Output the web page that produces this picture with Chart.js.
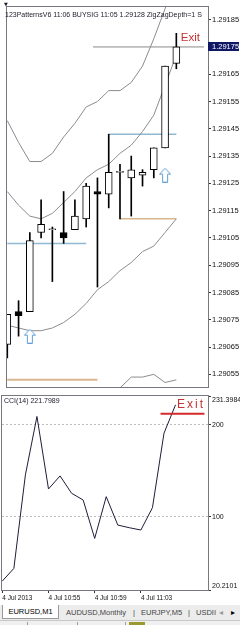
<!DOCTYPE html>
<html>
<head>
<meta charset="utf-8">
<style>
  html, body { margin: 0; padding: 0; background: #fff; }
  body { width: 240px; height: 625px; position: relative; overflow: hidden; font-family: Arial, "Liberation Sans", sans-serif; }
  #grafPrecio { position: absolute; left: 0; top: 0; }
  #grafCCI { position: absolute; left: 0; top: 394px; }
  #pestanas { position: absolute; left: 0; top: 605px; width: 240px; height: 15px; background: #ececec; font-size: 7.5px; color: #444; }
  #pestanas span { position: absolute; top: 3px; white-space: nowrap; }
  #pestanas .activa { position: absolute; left: 2px; top: 0; width: 55px; height: 13px; background: #fff;
    border: 1px solid #9a9a9a; border-top: none; color: #000; text-align: center; line-height: 13px; }
  #estado { position: absolute; left: 0; top: 620px; width: 240px; height: 5px; background: #f0f0f0; border-top: 1px solid #c8c8c8; }
  #estado i { position: absolute; top: 1px; width: 1px; height: 4px; background: #a0a0a0; }
</style>
</head>
<body>
<canvas id="grafPrecio" width="240" height="394"></canvas>
<canvas id="grafCCI" width="240" height="211"></canvas>
<div id="pestanas">
  <div class="activa">EURUSD,M1</div>
  <span style="left:66px">AUDUSD,Monthly</span>
  <span style="left:133px">|</span>
  <span style="left:141px">EURJPY,M5</span>
  <span style="left:188px">|</span>
  <span style="left:196px">USDII</span>
  <span style="left:219px;color:#999">&#9666;</span>
  <span style="left:231px;color:#000">&#9656;</span>
</div>
<div id="estado"><i style="left:27px"></i><i style="left:77px"></i><i style="left:125px"></i>
  <i style="left:129px;background:#9a9a30;width:16px"></i></div>
<script src="https://cdn.jsdelivr.net/npm/chart.js"></script>
<script>
    // Barras de 1 minuto (EURUSD,M1)
    const horas = ['10:51', '10:52', '10:53', '10:54', '10:55', '10:56', '10:57', '10:58',
                   '10:59', '11:00', '11:01', '11:02', '11:03', '11:04', '11:05', '11:06'];
    const aperturas = [1.29066, 1.29078, 1.29078, 1.29107, 1.29108, 1.29107, 1.29108, 1.29112,
                       1.29122, 1.29121, 1.29129, 1.29127, 1.29128, 1.29130, 1.29138, 1.29169];
    const maximos   = [1.29077, 1.29082, 1.29107, 1.29119, 1.29109, 1.29122, 1.29119, 1.29125,
                       1.29127, 1.29143, 1.29132, 1.29135, 1.29130, 1.29138, 1.29168, 1.29180];
    const minimos   = [1.29061, 1.29069, 1.29078, 1.29105, 1.29089, 1.29103, 1.29108, 1.29109,
                       1.29087, 1.29116, 1.29112, 1.29113, 1.29124, 1.29127, 1.29138, 1.29167];
    const cierres   = [1.29077, 1.290765, 1.29104, 1.29110, 1.29108, 1.29105, 1.29113, 1.29124,
                       1.29121, 1.29129, 1.29129, 1.29130, 1.29129, 1.29138, 1.29168, 1.29175];

    // Bandas
    const bandaSuperior = [1.29148, 1.29140, 1.29133, 1.29133, 1.29136, 1.29142, 1.29147, 1.29153,
                           1.29155, 1.29159, 1.29159, 1.29162, 1.29168, 1.29178, 1.29189, 1.29201];
    const bandaMedia    = [1.29122, 1.29117, 1.29113, 1.29112, 1.29114, 1.29118, 1.29122, 1.29127,
                           1.29130, 1.29132, 1.29136, 1.29139, 1.29144, 1.29150, 1.29161, 1.29172];
    const bandaInferior = [1.29073, 1.29072, 1.29071, 1.29071, 1.29072, 1.29074, 1.29077, 1.29081,
                           1.29086, 1.29089, 1.29093, 1.29096, 1.29100, 1.29102, 1.29107, 1.29112];
    const lineaFondo    = [null, null, null, null, null, null, null, null,
                           null, 1.29040, 1.29050, 1.29054, 1.29054, 1.29055, 1.29052, 1.29053];

    // CCI(14)
    const valoresCCI = [29.9, 43.7, 145.5, 209.1, 130.2, 144.4, 125.5, 118.2,
                        76.4, 121.8, 90.9, 88.0, 85.5, 109.8, 190.9, 221.7989];

    // Lineas del patron: [precio, barra inicial, barra final]
    const lineasAzules = [[1.29103, 0, 7], [1.29143, 9, 15]];
    const lineasNaranjas = [[1.29053, 0, 8], [1.29112, 10, 15]];
    const lineaBid = [1.29175, 7.6, 17.45];
    const precioActual = 1.29175;
    const lineaSalidaCCI = [212, 13.7, 17.5];

    // Flechas de compra: [barra, precio]
    const flechas = [[2, 1.29069], [14, 1.29128]];

    // Textos
    const textoCabecera = '123PatternsV6 11:06 BUYSIG 11:05 1.29128 ZigZagDepth=1 S';
    const textoCCI = 'CCI(14) 221.7989';
    const textoSalida = 'Exit';
    const anclaSalidaPrecio = [15.39, 1.291784];
    const anclaSalidaCCI = [15.13, 221.8];

    // Ejes
    const etiquetasPrecio = ['1.29185', '1.29175', '1.29165', '1.29155', '1.29145', '1.29135', '1.29125',
                             '1.29115', '1.29105', '1.29095', '1.29085', '1.29075', '1.29065', '1.29055'];
    const etiquetasCCI = ['231.3984', '200', '100', '20.2101'];
    const etiquetasTiempo = ['4 Jul 2013', '4 Jul 10:55', '4 Jul 10:59', '4 Jul 11:03'];
    const barrasTiempo = [0, 4, 8, 12];
    const precioMin = 1.2905036, precioMax = 1.2918964;
    const cciMin = 20.2101, cciMax = 231.3984;
    const barraMin = -0.026, barraMax = 17.81;

    Chart.defaults.font.family = 'Arial, "Liberation Sans", sans-serif';

    // Flecha hueca azul
    function crearFlecha() {
        const c = document.createElement('canvas');
        c.width = 12; c.height = 15;
        const g = c.getContext('2d');
        g.beginPath();
        g.moveTo(6, 0.5); g.lineTo(11.5, 6.5); g.lineTo(8.5, 6.5); g.lineTo(8.5, 14.5);
        g.lineTo(3.5, 14.5); g.lineTo(3.5, 6.5); g.lineTo(0.5, 6.5); g.closePath();
        g.fillStyle = '#fff'; g.fill();
        g.strokeStyle = '#5f9fd6'; g.lineWidth = 1; g.stroke();
        return c;
    }

    function linea(datos, color, ancho, orden) {
        return { type: 'line', data: datos, borderColor: color, borderWidth: ancho,
                 pointRadius: 0, tension: 0, fill: false, order: orden };
    }

    function marco(chart) {
        const {ctx, chartArea: a} = chart;
        ctx.save();
        ctx.strokeStyle = '#777782';
        ctx.lineWidth = 1;
        ctx.strokeRect(a.left - 0.5, a.top - 0.5, a.width + 1, a.height + 1);
        ctx.restore();
    }

    const ejeX = {
        type: 'linear', min: barraMin, max: barraMax, offset: false, display: false,
        grid: { offset: false },
        afterFit: s => { s.paddingLeft = 0; s.paddingRight = 0; }
    };

    // Decoraciones del grafico de precio
    const decoPrecio = {
        id: 'decoPrecio',
        afterDraw(chart) {
            const {ctx, scales: {x, y}} = chart;
            marco(chart);
            ctx.save();
            // Cabecera ajustada al ancho
            ctx.font = '7px Arial';
            const w = ctx.measureText(textoCabecera).width;
            ctx.font = (7 * 197 / w).toFixed(2) + 'px Arial';
            ctx.fillStyle = '#1c1c2c';
            ctx.textBaseline = 'middle';
            ctx.fillText(textoCabecera, 5, 15.5);
            ctx.font = '5px "DejaVu Sans"';
            ctx.fillText('\u25BC', 4, 5);
            // Exit
            ctx.font = '11.5px Arial';
            ctx.fillStyle = '#c83232';
            ctx.fillText(textoSalida, x.getPixelForValue(anclaSalidaPrecio[0]), y.getPixelForValue(anclaSalidaPrecio[1]));
            // Etiqueta del precio actual
            const py = Math.round(y.getPixelForValue(precioActual));
            ctx.fillStyle = '#101866';
            ctx.fillRect(208, py - 5, 31, 9);
            ctx.fillStyle = '#fff';
            ctx.font = '7.5px Arial';
            ctx.fillText(precioActual.toFixed(5), 212, py - 0.5);
            ctx.restore();
        }
    };

    const imagenFlecha = crearFlecha();

    const datosPrecio = [
        {
            type: 'line', order: 0, showLine: false,
            data: flechas.map(f => ({ x: f[0], y: f[1] })),
            pointStyle: imagenFlecha, pointRadius: 6
        },
        {
            type: 'bar', order: 1, grouped: false, barThickness: 7, minBarLength: 1,
            data: horas.map((h, i) => ({ x: i, y: [aperturas[i], cierres[i]] })),
            backgroundColor: horas.map((h, i) => cierres[i] < aperturas[i] ? '#000' : '#fff'),
            borderColor: '#000', borderWidth: 1, borderSkipped: false
        },
        {
            type: 'bar', order: 2, grouped: false, barThickness: 1,
            data: horas.map((h, i) => ({ x: i, y: [minimos[i], maximos[i]] })),
            backgroundColor: '#000', borderWidth: 0
        },
        linea(bandaSuperior.map((v, i) => ({ x: i, y: v })), '#8c8c8c', 1, 3),
        linea(bandaMedia.map((v, i) => ({ x: i, y: v })), '#8c8c8c', 1, 3),
        linea(bandaInferior.map((v, i) => ({ x: i, y: v })), '#8c8c8c', 1, 3),
        linea(lineaFondo.map((v, i) => ({ x: i, y: v })).filter(p => p.y !== null), '#8c8c8c', 1, 3),
        linea([{ x: lineaBid[1], y: lineaBid[0] }, { x: lineaBid[2], y: lineaBid[0] }], '#8a8a8a', 1, 4)
    ];
    lineasAzules.forEach(l => datosPrecio.push(
        linea([{ x: l[1], y: l[0] }, { x: l[2], y: l[0] }], '#8fb8d2', 1.5, 4)));
    lineasNaranjas.forEach((l, k) => datosPrecio.push(
        linea([{ x: l[1], y: l[0] }, { x: l[2], y: l[0] }], '#d9b690', k === 0 ? 2 : 1.5, 4)));

    new Chart(document.getElementById('grafPrecio'), {
        type: 'bar',
        data: { datasets: datosPrecio },
        options: {
            responsive: false, animation: false, events: [],
            layout: { padding: { left: 2, top: 2, right: 0, bottom: 2 } },
            plugins: { legend: { display: false }, tooltip: { enabled: false } },
            scales: {
                x: ejeX,
                y: {
                    position: 'right', min: precioMin, max: precioMax,
                    afterBuildTicks: s => { s.ticks = etiquetasPrecio.map(t => ({ value: parseFloat(t) })); },
                    afterFit: s => { s.width = 32; s.paddingTop = 0; s.paddingBottom = 0; },
                    ticks: { autoSkip: false, padding: 1, color: '#111', font: { size: 7.5 },
                             callback: (v, i) => etiquetasPrecio[i] },
                    grid: { drawOnChartArea: false, tickLength: 3, color: '#333' },
                    border: { display: false }
                }
            }
        },
        plugins: [decoPrecio]
    });

    // Decoraciones del CCI
    const decoCCI = {
        id: 'decoCCI',
        afterDraw(chart) {
            const {ctx, scales: {x, y}} = chart;
            marco(chart);
            ctx.save();
            ctx.textBaseline = 'middle';
            ctx.fillStyle = '#1c1c2c';
            ctx.font = '7px Arial';
            ctx.fillText(textoCCI, 4, 7.5);
            ctx.fillStyle = '#c83232';
            ctx.font = '12px Arial';
            ctx.letterSpacing = '2px';
            ctx.fillText(textoSalida, x.getPixelForValue(anclaSalidaCCI[0]), y.getPixelForValue(anclaSalidaCCI[1]));
            ctx.restore();
        }
    };

    new Chart(document.getElementById('grafCCI'), {
        type: 'line',
        data: {
            datasets: [
                linea(valoresCCI.map((v, i) => ({ x: i, y: v })), '#1e1e3a', 1, 1),
                linea([{ x: lineaSalidaCCI[1], y: lineaSalidaCCI[0] }, { x: lineaSalidaCCI[2], y: lineaSalidaCCI[0] }], '#d42a2a', 2, 0)
            ]
        },
        options: {
            responsive: false, animation: false, events: [],
            layout: { padding: { left: 2, top: 2, right: 0, bottom: 0 } },
            plugins: { legend: { display: false }, tooltip: { enabled: false } },
            scales: {
                x: Object.assign({}, ejeX, {
                    display: true,
                    afterBuildTicks: s => { s.ticks = barrasTiempo.map(v => ({ value: v })); },
                    afterFit: s => { s.height = 15; s.paddingLeft = 0; s.paddingRight = 0; },
                    ticks: { autoSkip: false, maxRotation: 0, minRotation: 0, align: 'start', padding: 1,
                             color: '#111', font: { size: 6.5 }, callback: (v, i) => etiquetasTiempo[i] },
                    grid: { drawOnChartArea: false, tickLength: 3, color: '#333' },
                    border: { display: false }
                }),
                y: {
                    position: 'right', min: cciMin, max: cciMax,
                    afterBuildTicks: s => { s.ticks = etiquetasCCI.map(t => ({ value: parseFloat(t) })); },
                    afterFit: s => { s.width = 32; s.paddingTop = 0; s.paddingBottom = 0; },
                    ticks: {
                        autoSkip: false, padding: 1, color: '#111', font: { size: 7 },
                        callback: (v, i) => {
                            const t = etiquetasCCI[i];
                            if (v === cciMax) return ['', t];
                            if (v === cciMin) return [t, ''];
                            return t;
                        }
                    },
                    grid: {
                        drawOnChartArea: true, tickLength: 3, tickColor: '#333',
                        color: c => (c.tick && (c.tick.value === 100 || c.tick.value === 200)) ? '#bdbdbd' : 'rgba(0,0,0,0)'
                    },
                    border: { display: false, dash: [2, 2] }
                }
            }
        },
        plugins: [decoCCI]
    });
</script>
</body>
</html>
